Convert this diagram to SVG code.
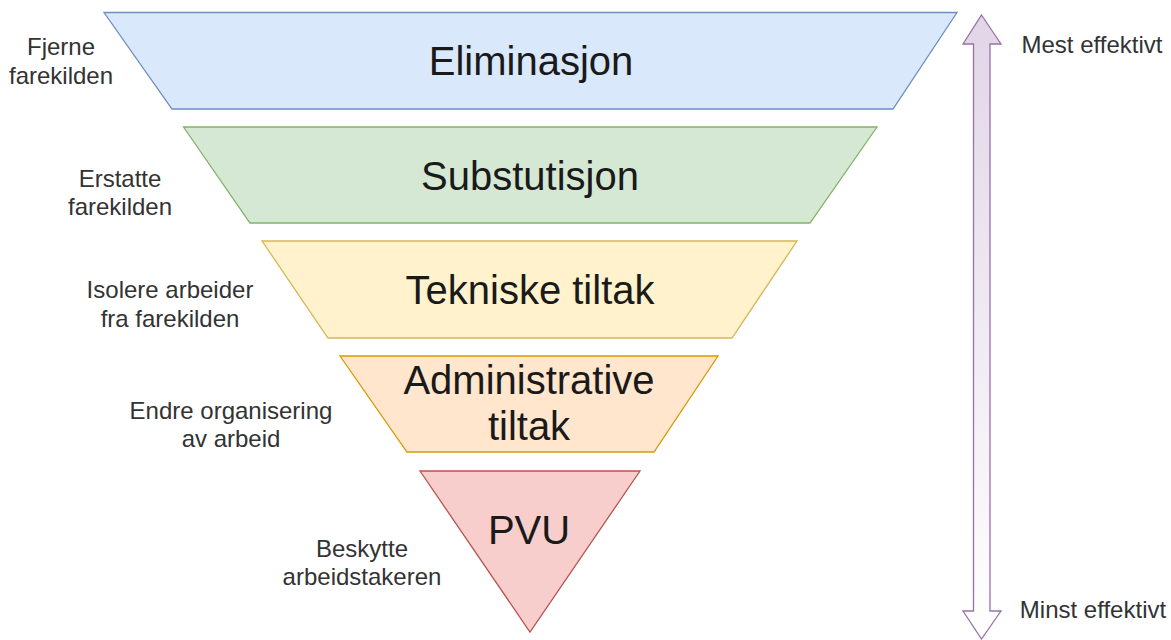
<svg xmlns="http://www.w3.org/2000/svg" width="1171" height="640" viewBox="0 0 1171 640">
<style>
.shape{stroke-width:1.3;stroke-linejoin:miter}
.main{font-family:"Liberation Sans",Arial,sans-serif;font-size:40px;fill:#1a1a1a;text-anchor:middle}
.lbl{font-family:"Liberation Sans",Arial,sans-serif;font-size:24px;fill:#333333;text-anchor:middle}
</style>
<defs>
<linearGradient id="pg" x1="0" y1="0" x2="0" y2="1">
<stop offset="0" stop-color="#e1d5e7"/>
<stop offset="1" stop-color="#ffffff"/>
</linearGradient>
</defs>
<rect width="1171" height="640" fill="#ffffff"/>
<g id="eliminasjon">
<polygon class="shape" points="104,12.5 957,12.5 893,109 172,109" fill="#dae8fc" stroke="#6c8ebf"/>
<text class="main" x="531" y="75">Eliminasjon</text>
</g>
<g id="substutisjon">
<polygon class="shape" points="183.5,127 877,127 810,223 250,223" fill="#d5e8d4" stroke="#82b366"/>
<text class="main" x="530" y="190">Substutisjon</text>
</g>
<g id="tekniske">
<polygon class="shape" points="262,241 797,241 732,338 328,338" fill="#fff2cc" stroke="#d6b656"/>
<text class="main" x="530" y="304">Tekniske tiltak</text>
</g>
<g id="administrative">
<polygon class="shape" points="340,356 718,356 654,452 407,452" fill="#ffe6cc" stroke="#d79b00"/>
<text class="main" x="529" y="394">Administrative</text>
<text class="main" x="529" y="440">tiltak</text>
</g>
<g id="pvu">
<polygon class="shape" points="420,471 640,471 530,632" fill="#f8cecc" stroke="#b85450"/>
<text class="main" x="529" y="544">PVU</text>
</g>
<g id="arrow">
<polygon class="shape" points="981.5,15 1001,44 990,44 990,611 1001,611 981.5,639 963,611 973.5,611 973.5,44 963,44" fill="url(#pg)" stroke="#9673a6"/>
</g>
<g id="labels">
<text class="lbl" x="61" y="55">Fjerne</text>
<text class="lbl" x="61" y="84">farekilden</text>
<text class="lbl" x="120" y="187">Erstatte</text>
<text class="lbl" x="120" y="215">farekilden</text>
<text class="lbl" x="170" y="298">Isolere arbeider</text>
<text class="lbl" x="170" y="327">fra farekilden</text>
<text class="lbl" x="231" y="419">Endre organisering</text>
<text class="lbl" x="231" y="447">av arbeid</text>
<text class="lbl" x="362" y="557">Beskytte</text>
<text class="lbl" x="362" y="585">arbeidstakeren</text>
<text class="lbl" x="1092" y="53">Mest effektivt</text>
<text class="lbl" x="1093" y="618">Minst effektivt</text>
</g>
</svg>
